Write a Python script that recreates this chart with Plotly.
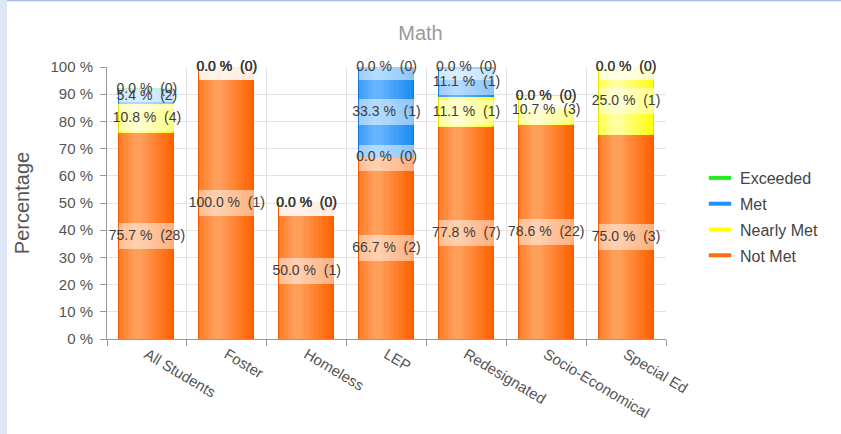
import numpy as np
import plotly.graph_objects as go

categories = ["All Students", "Foster", "Homeless", "LEP", "Redesignated", "Socio-Economical", "Special Ed"]
series_names = ["Not Met", "Nearly Met", "Met", "Exceeded"]
not_met_pct = [75.7, 100.0, 50.0, 66.7, 77.8, 78.6, 75.0]
nearly_met_pct = [10.8, 0.0, 0.0, 0.0, 11.1, 10.7, 25.0]
met_pct = [5.4, 0.0, 0.0, 33.3, 11.1, 0.0, 0.0]
exceeded_pct = [0.0, 0.0, 0.0, 0.0, 0.0, 0.0, 0.0]
not_met_n = [28, 1, 1, 2, 7, 22, 3]
nearly_met_n = [4, 0, 0, 0, 1, 3, 1]
met_n = [2, 0, 0, 1, 1, 0, 0]
exceeded_n = [0, 0, 0, 0, 0, 0, 0]
y_ticks = [0, 10, 20, 30, 40, 50, 60, 70, 80, 90, 100]
y_tick_labels = ["%d %%" % v for v in y_ticks]

pcts = [not_met_pct, nearly_met_pct, met_pct, exceeded_pct]
counts = [not_met_n, nearly_met_n, met_n, exceeded_n]
base_colors = ["#ff6200", "#ffff10", "#1c8cf2", "#18e018"]
hi_colors = ["#ff9f5c", "#ffffa0", "#66b4ff", "#90ff90"]
edge_colors = ["#f05a00", "#e6e600", "#1878d8", "#10c010"]
legend_colors = ["#ff6a10", "#ffff00", "#1e90ff", "#22ee22"]
FONT = "Liberation Sans, Arial, sans-serif"

W = 0.69
levels = [0.1, 0.2, 0.3, 0.4, 0.5, 0.6, 0.7, 0.8, 0.9, 1.0]


def hex2rgb(h):
    h = h.lstrip('#')
    return np.array([int(h[i:i + 2], 16) for i in (0, 2, 4)], dtype=float)


def mix(a, b, t):
    c = hex2rgb(a) * (1 - t) + hex2rgb(b) * t
    return "rgb(%d,%d,%d)" % tuple(np.round(c).astype(int))


def interval(v):
    left = 0.0 if v <= 0.45 else 0.25 * (v - 0.45) / 0.55
    right = 0.4 + 0.6 * (1 - v)
    if right - left < 0.1:
        c = (left + right) / 2
        left, right = c - 0.05, c + 0.05
    return left, right


fig = go.Figure()
arr = np.array(pcts)
bases = np.vstack([np.zeros(len(categories)), np.cumsum(arr, axis=0)[:-1]])

# bars with a simple cylindrical shading
for s in range(len(series_names)):
    fig.add_trace(go.Bar(x=categories, y=pcts[s], base=bases[s], width=W, offset=-W / 2,
                         marker=dict(color=base_colors[s], line=dict(color=edge_colors[s], width=1)),
                         showlegend=False, hoverinfo="skip"))
    for v in levels:
        l, r = interval(v)
        fig.add_trace(go.Bar(x=categories, y=pcts[s], base=bases[s], width=(r - l) * W,
                             offset=-W / 2 + l * W,
                             marker=dict(color=mix(base_colors[s], hi_colors[s], v), line=dict(width=0)),
                             showlegend=False, hoverinfo="skip"))

# label boxes and labels
BOX = 9.5
for s in range(len(series_names)):
    pos = bases[s] + arr[s] / 2
    fig.add_trace(go.Bar(x=categories, y=[BOX] * len(categories), base=pos - BOX / 2, width=W, offset=-W / 2,
                         marker=dict(color="rgba(255,255,255,0.5)", line=dict(width=0)),
                         showlegend=False, hoverinfo="skip"))
for s in range(len(series_names)):
    pos = bases[s] + arr[s] / 2
    texts = ["%.1f %%  (%d)" % (p, n) for p, n in zip(pcts[s], counts[s])]
    fig.add_trace(go.Scatter(x=categories, y=pos, mode="text", text=texts, textposition="middle center",
                             textfont=dict(family=FONT, size=14, color="#3c3c3c"),
                             cliponaxis=False, showlegend=False, hoverinfo="skip"))

# legend entries
for s in [3, 2, 1, 0]:
    fig.add_trace(go.Scatter(x=[None], y=[None], mode="markers", name=series_names[s], legendgroup=series_names[s],
                             marker=dict(symbol="line-ew", size=20, color=legend_colors[s],
                                         line=dict(color=legend_colors[s], width=4))))

px2x = lambda p: (p - 107) / 559.0
px2y = lambda p: (339 - p) / 272.0
fig.add_shape(type="rect", xref="paper", yref="paper", x0=px2x(-2), x1=px2x(7), y0=px2y(440), y1=px2y(-5),
              fillcolor="#dfe6f5", line=dict(width=0), layer="below")
fig.add_shape(type="line", xref="paper", yref="paper", x0=px2x(7), x1=px2x(845), y0=px2y(0.5), y1=px2y(0.5),
              line=dict(color="#a8bce6", width=1.5), layer="below")

fig.update_layout(
    width=841, height=434,
    margin=dict(l=107, r=175, t=67, b=95),
    barmode="overlay",
    bargap=0,
    paper_bgcolor="white", plot_bgcolor="white",
    font=dict(family=FONT, color="#555"),
    title=dict(text="Math", x=0.5, xref="container", xanchor="center", y=1 - 33 / 434, yanchor="middle",
               font=dict(size=20, color="#999999")),
    legend=dict(x=px2x(700), xanchor="left", y=px2y(217), yanchor="middle", traceorder="grouped",
                tracegroupgap=2, font=dict(size=16, color="#444"), bgcolor="rgba(0,0,0,0)",
                itemwidth=30),
    xaxis=dict(type="category", tickson="boundaries", ticks="outside", ticklen=6, tickcolor="#999",
               showline=True, linecolor="#999", linewidth=1, showgrid=True, gridcolor="#e3e3e3",
               tickangle=31, tickfont=dict(size=15, color="#555"), fixedrange=True),
    yaxis=dict(range=[0, 100], tickvals=y_ticks, ticktext=y_tick_labels, ticks="outside", ticklen=6,
               tickcolor="#999", ticklabelstandoff=4,
               showline=True, linecolor="#999", linewidth=1, showgrid=True, gridcolor="#e3e3e3",
               zeroline=False, tickfont=dict(size=15, color="#555"),
               title=dict(text="Percentage", font=dict(size=20, color="#555"), standoff=15), fixedrange=True),
)

fig.write_html("out.html", config={"displayModeBar": False},
               post_script="document.body.style.margin='0';document.body.style.overflow='hidden';")
